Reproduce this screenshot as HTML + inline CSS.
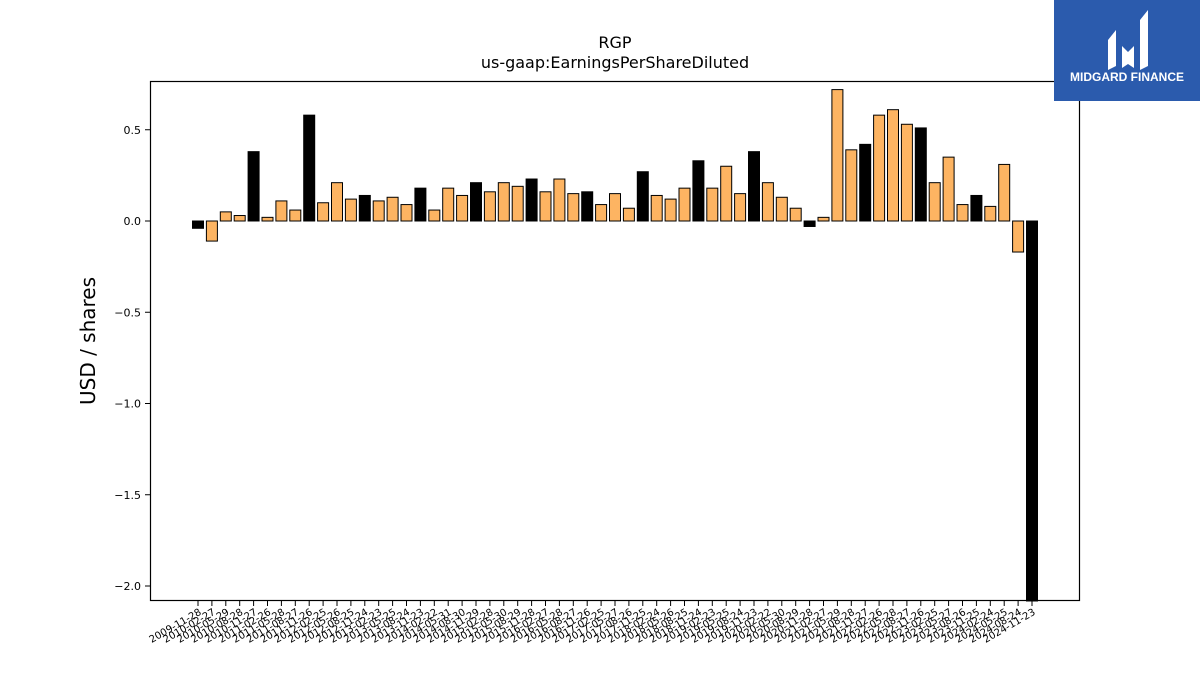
<!DOCTYPE html>
<html><head><meta charset="utf-8"><style>
html,body{margin:0;padding:0;background:#fff;width:1200px;height:675px;overflow:hidden;font-family:"Liberation Sans","DejaVu Sans",sans-serif}
</style></head><body>
<svg id="chart" width="1200" height="675" xmlns="http://www.w3.org/2000/svg" style="position:absolute;left:0;top:0">
<text x="615" y="48" text-anchor="middle" font-size="16" font-family="DejaVu Sans, sans-serif">RGP</text>
<text x="615" y="68" text-anchor="middle" font-size="16" font-family="DejaVu Sans, sans-serif">us-gaap:EarningsPerShareDiluted</text>
<text x="0" y="0" transform="translate(95,341) rotate(-90)" text-anchor="middle" font-size="20" font-family="DejaVu Sans, sans-serif">USD / shares</text>
<g id="bars"></g>
<g id="yaxis"></g>
<g id="xaxis"></g>
<rect x="150.5" y="81.5" width="929" height="519" fill="none" stroke="#000" stroke-width="1.2"/>
<g>
<rect x="1054" y="0" width="146" height="101" fill="#2b5bad"/>
<path d="M1108 40 L1116 30 L1116 66 L1108 70 Z" fill="#fff"/>
<path d="M1122 46 L1128 52 L1134 46 L1134 68 L1128 64 L1122 68 Z" fill="#fff"/>
<path d="M1140 20 L1148 10 L1148 66 L1140 70 Z" fill="#fff"/>
<text x="1127" y="81" text-anchor="middle" font-size="12" font-weight="bold" fill="#fff">MIDGARD FINANCE</text>
</g>
</svg>
<script>
const dates = ["2009-11-28","2010-02-27","2010-05-29","2010-08-28","2010-11-27","2011-02-26","2011-05-28","2011-08-27","2011-11-26","2012-02-25","2012-05-26","2012-08-25","2012-11-24","2013-02-23","2013-05-25","2013-08-24","2013-11-23","2014-02-22","2014-05-31","2014-08-30","2014-11-29","2015-02-28","2015-05-30","2015-08-29","2015-11-28","2016-02-27","2016-05-28","2016-08-27","2016-11-26","2017-02-25","2017-05-27","2017-08-26","2017-11-25","2018-02-24","2018-05-26","2018-08-25","2018-11-24","2019-02-23","2019-05-25","2019-08-24","2019-11-23","2020-02-22","2020-05-30","2020-08-29","2020-11-28","2021-02-27","2021-05-29","2021-08-28","2021-11-27","2022-02-26","2022-05-28","2022-08-27","2022-11-26","2023-02-25","2023-05-27","2023-08-26","2023-11-25","2024-02-24","2024-05-25","2024-08-24","2024-11-23"];
const eps = [-0.04,-0.11,0.05,0.03,0.38,0.02,0.11,0.06,0.58,0.10,0.21,0.12,0.14,0.11,0.13,0.09,0.18,0.06,0.18,0.14,0.21,0.16,0.21,0.19,0.23,0.16,0.23,0.15,0.16,0.09,0.15,0.07,0.27,0.14,0.12,0.18,0.33,0.18,0.30,0.15,0.38,0.21,0.13,0.07,-0.03,0.02,0.72,0.39,0.42,0.58,0.61,0.53,0.51,0.21,0.35,0.09,0.14,0.08,0.31,-0.17,-2.10];
const yTicks = [0.5,0.0,-0.5,-1.0,-1.5,-2.0];
const yTickLabels = ["0.5","0.0","\u22120.5","\u22121.0","\u22121.5","\u22122.0"];

const NS="http://www.w3.org/2000/svg";
const plotTop=81, plotBot=601;
function yScale(v){return 221 - v*182.5;}
function xScale(i){return 198 + i*(1032-198)/(dates.length-1);}
const bw=11;
const bars=document.getElementById('bars');
eps.forEach((v,i)=>{
  const r=document.createElementNS(NS,'rect');
  const y0=yScale(0), y1=Math.min(Math.max(yScale(v),plotTop),plotBot);
  r.setAttribute('x',xScale(i)-bw/2);
  r.setAttribute('y',Math.min(y0,y1));
  r.setAttribute('width',bw);
  r.setAttribute('height',Math.abs(y1-y0));
  const annual = i%4===0;
  r.setAttribute('fill',annual?'#000':'#fdb462');
  r.setAttribute('stroke','#000');
  r.setAttribute('stroke-width','1');
  
  
  bars.appendChild(r);
});
const ya=document.getElementById('yaxis');
yTicks.forEach((t,k)=>{
  const y=yScale(t);
  const l=document.createElementNS(NS,'line');
  l.setAttribute('x1',145);l.setAttribute('x2',150);l.setAttribute('y1',y);l.setAttribute('y2',y);l.setAttribute('stroke','#000');
  
  
  ya.appendChild(l);
  const tx=document.createElementNS(NS,'text');
  tx.setAttribute('x',141);tx.setAttribute('y',y+4);tx.setAttribute('text-anchor','end');tx.setAttribute('font-size','11');
  tx.setAttribute('font-family','DejaVu Sans, sans-serif');
  tx.textContent=yTickLabels[k];
  
  
  ya.appendChild(tx);
});
const xa=document.getElementById('xaxis');
dates.forEach((d,i)=>{
  const x=xScale(i);
  const l=document.createElementNS(NS,'line');
  l.setAttribute('x1',x);l.setAttribute('x2',x);l.setAttribute('y1',601);l.setAttribute('y2',606);l.setAttribute('stroke','#000');
  
  
  xa.appendChild(l);
  const tx=document.createElementNS(NS,'text');
  tx.setAttribute('text-anchor','end');tx.setAttribute('font-size','10');
  tx.setAttribute('font-family','DejaVu Sans, sans-serif');
  tx.setAttribute('transform','translate('+(x+4)+',614) rotate(-30)');
  tx.textContent=d;
  
  
  xa.appendChild(tx);
});
</script>
</body></html>
